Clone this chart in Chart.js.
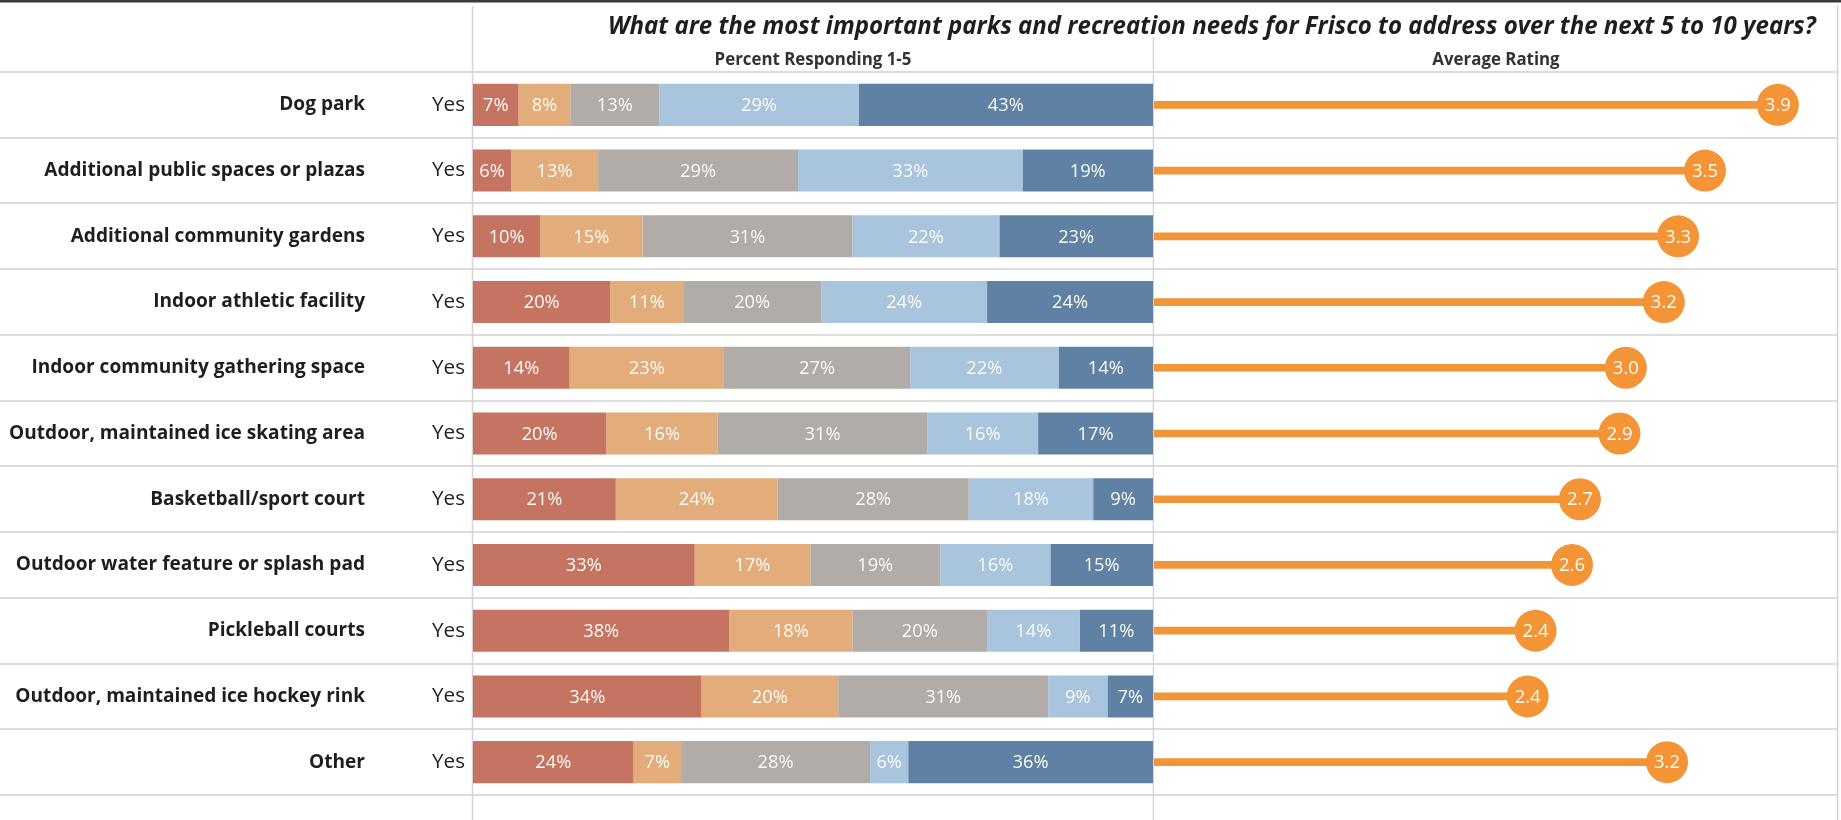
<!DOCTYPE html>
<html><head><meta charset="utf-8">
<script src="https://cdn.jsdelivr.net/npm/chart.js@4.4.1/dist/chart.umd.min.js"></script>
<style>
html,body{margin:0;padding:0;background:#fff;width:1841px;height:820px;overflow:hidden;}
#wrap{position:relative;width:1841px;height:820px;}
#cA{position:absolute;left:0;top:0;width:1154px;height:820px;}
#cB{position:absolute;left:1154px;top:0;width:687px;height:820px;}
.txt{position:absolute;white-space:nowrap;color:#1e1e1e;}
</style></head><body>
<div id="wrap">
<canvas id="cA" width="1154" height="820"></canvas>
<canvas id="cB" width="687" height="820"></canvas>
<div id="title" class="txt"></div>
<div id="h1" class="txt"></div>
<div id="h2" class="txt"></div>
</div>
<script>
// ---------- DATA ----------
const titleText = 'What are the most important parks and recreation needs for Frisco to address over the next 5 to 10 years?';
const panelHeaders = ['Percent Responding 1-5', 'Average Rating'];
const categories = ['Dog park','Additional public spaces or plazas','Additional community gardens','Indoor athletic facility','Indoor community gathering space','Outdoor, maintained ice skating area','Basketball/sport court','Outdoor water feature or splash pad','Pickleball courts','Outdoor, maintained ice hockey rink','Other'];
const responseLabels = ['Yes','Yes','Yes','Yes','Yes','Yes','Yes','Yes','Yes','Yes','Yes'];
const ratingLevels = ['1','2','3','4','5'];
const pct1 = [6.7, 5.6, 9.9, 20.2, 14.2, 19.6, 21.0, 32.6, 37.7, 33.6, 23.6];
const pct2 = [7.6, 12.8, 15.0, 10.7, 22.7, 16.4, 23.8, 17.0, 18.1, 20.1, 7.0];
const pct3 = [13.1, 29.4, 30.9, 20.3, 27.4, 30.8, 28.1, 19.1, 19.8, 30.9, 27.8];
const pct4 = [29.3, 33.0, 21.6, 24.4, 21.8, 16.3, 18.3, 16.2, 13.6, 8.7, 5.6];
const pct5 = [43.3, 19.2, 22.6, 24.4, 13.9, 16.9, 8.8, 15.1, 10.8, 6.7, 36.0];
const avgRating = [3.94, 3.48, 3.31, 3.22, 2.98, 2.94, 2.69, 2.64, 2.41, 2.36, 3.24];

// ---------- STYLE ----------
const levelColors = ['#C47461', '#E2AC7B', '#B1ACA7', '#A9C4DD', '#5F81A4'];
const orange = '#F39536';
const FAM = "'Open Sans', sans-serif";
const sepColor = '#dcdcdc';

const mctx = document.createElement('canvas').getContext('2d');
function fit(text, style, target) {
  mctx.font = style + ' 20px ' + FAM;
  return 20 * target / mctx.measureText(text).width;
}
const rowLabelSize = fit('Outdoor, maintained ice skating area', 'bold', 356);
const yesSize = fit('Yes', 'normal', 33);
const barLabelSize = fit('43%', 'normal', 36);
const ratingLabelSize = fit('3.9', 'normal', 26);
const titleSize = fit(titleText, 'italic bold', 1208);
const headerSize = fit(panelHeaders[0], 'bold', 197);

// HTML text
const t = document.getElementById('title');
t.textContent = titleText;
t.style.font = 'italic bold ' + titleSize + 'px ' + FAM;
t.style.left = '608px'; t.style.top = (25 - titleSize * 0.68) + 'px'; t.style.lineHeight = '1.36';
const h1 = document.getElementById('h1');
h1.textContent = panelHeaders[0];
const h2 = document.getElementById('h2');
h2.textContent = panelHeaders[1];
[[h1, 473, 680], [h2, 1154, 684]].forEach(([el, l, w]) => {
  el.style.font = 'bold ' + headerSize + 'px ' + FAM;
  el.style.left = l + 'px'; el.style.width = w + 'px'; el.style.textAlign = 'center';
  el.style.lineHeight = '1.36'; el.style.top = (59 - headerSize * 0.68) + 'px'; el.style.color = '#333';
});

function drawFrame(chart, isLeft) {
  const ctx = chart.ctx, a = chart.chartArea;
  const n = categories.length, step = (a.bottom - a.top) / n;
  ctx.save();
  ctx.strokeStyle = sepColor; ctx.lineWidth = 2;
  const xEnd = isLeft ? chart.width : a.right;
  for (let i = 0; i <= n; i++) {
    const y = Math.round(a.top + i * step);
    ctx.beginPath(); ctx.moveTo(0, y); ctx.lineTo(xEnd, y); ctx.stroke();
  }
  ctx.strokeStyle = '#d4d4d4'; ctx.lineWidth = 1.5;
  if (isLeft) {
    ctx.beginPath(); ctx.moveTo(a.left - 0.5, 6); ctx.lineTo(a.left - 0.5, chart.height); ctx.stroke();
    ctx.beginPath(); ctx.moveTo(a.right + 0.5, 37); ctx.lineTo(a.right + 0.5, chart.height); ctx.stroke();
  } else {
    ctx.beginPath(); ctx.moveTo(a.right - 0.5, 5); ctx.lineTo(a.right - 0.5, chart.height); ctx.stroke();
  }
  ctx.fillStyle = '#3a3a3a';
  ctx.fillRect(0, 0, chart.width, 2.5);
  ctx.restore();
}

const frameA = { id: 'frameA', beforeDatasetsDraw(chart) { drawFrame(chart, true); } };
const frameB = { id: 'frameB', beforeDatasetsDraw(chart) { drawFrame(chart, false); } };

const barLabels = {
  id: 'barLabels',
  afterDatasetsDraw(chart) {
    const ctx = chart.ctx;
    ctx.save();
    ctx.font = barLabelSize + 'px ' + FAM;
    ctx.fillStyle = '#fbfaf5'; ctx.textAlign = 'center'; ctx.textBaseline = 'middle';
    chart.data.datasets.forEach((ds, di) => {
      chart.getDatasetMeta(di).data.forEach((el, i) => {
        const v = ds.data[i];
        ctx.fillText(Math.round(v) + '%', (el.x + el.base) / 2, el.y + 1);
      });
    });
    ctx.restore();
  }
};

const dotLabels = {
  id: 'dotLabels',
  afterDatasetsDraw(chart) {
    const ctx = chart.ctx;
    ctx.save();
    ctx.font = ratingLabelSize + 'px ' + FAM;
    ctx.fillStyle = '#fbfaf5'; ctx.textAlign = 'center'; ctx.textBaseline = 'middle';
    chart.getDatasetMeta(1).data.forEach((el, i) => {
      ctx.fillText(avgRating[i].toFixed(1), el.x, el.y + 1);
    });
    ctx.restore();
  }
};

const series = [pct1, pct2, pct3, pct4, pct5];

new Chart(document.getElementById('cA'), {
  type: 'bar',
  data: {
    labels: categories,
    datasets: ratingLevels.map((lv, i) => ({
      label: lv, data: series[i], backgroundColor: levelColors[i], borderWidth: 0,
      categoryPercentage: 1, barPercentage: 0.64, yAxisID: 'y'
    }))
  },
  options: {
    indexAxis: 'y', responsive: false, animation: false, events: [],
    layout: { autoPadding: false, padding: { top: 72, bottom: 25, left: 0, right: 1 } },
    plugins: { legend: { display: false }, tooltip: { enabled: false } },
    scales: {
      x: { stacked: true, min: 0, max: 100, display: false },
      y: {
        type: 'category', labels: responseLabels, stacked: true, offset: true, position: 'left', weight: 1,
        grid: { display: false, drawTicks: false }, border: { display: false },
        ticks: { autoSkip: false, padding: 8, color: '#222', font: { family: FAM, size: yesSize } },
        afterFit(s) { s.width = 103; }
      },
      yLab: {
        type: 'category', labels: categories, offset: true, position: 'left', weight: 2,
        grid: { display: false, drawTicks: false }, border: { display: false },
        ticks: { autoSkip: false, padding: 5, color: '#1e1e1e', font: { family: FAM, size: rowLabelSize, weight: 'bold' } },
        afterFit(s) { s.width = 370; }
      }
    }
  },
  plugins: [frameA, barLabels]
});

new Chart(document.getElementById('cB'), {
  type: 'bar',
  data: {
    labels: categories,
    datasets: [
      { type: 'bar', label: 'Average Rating', data: avgRating, backgroundColor: orange, borderWidth: 0, barThickness: 7 },
      { type: 'line', label: 'Average Rating', data: avgRating, showLine: false, borderColor: orange,
        pointRadius: 21, pointHoverRadius: 21, pointBackgroundColor: orange, pointBorderWidth: 0 }
    ]
  },
  options: {
    indexAxis: 'y', responsive: false, animation: false, events: [],
    layout: { autoPadding: false, padding: { top: 72, bottom: 25, left: 0, right: 3 } },
    plugins: { legend: { display: false }, tooltip: { enabled: false } },
    scales: {
      x: { min: 0, max: 4.32, display: false },
      y: { display: false, offset: true }
    }
  },
  plugins: [frameB, dotLabels]
});
</script>
</body></html>
